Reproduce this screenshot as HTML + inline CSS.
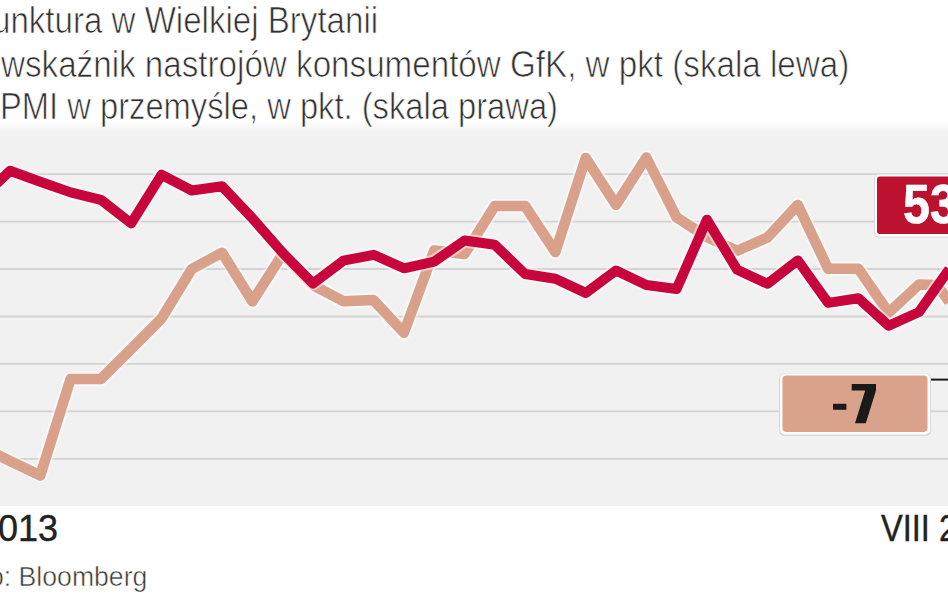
<!DOCTYPE html>
<html><head><meta charset="utf-8">
<style>
html,body{margin:0;padding:0;background:#fff;}
body{width:948px;height:593px;position:relative;overflow:hidden;font-family:"Liberation Sans",sans-serif;}
.t{position:absolute;white-space:nowrap;transform-origin:0 0;line-height:1;}
svg{position:absolute;left:0;top:0;}
</style></head><body>
<svg width="948" height="593" viewBox="0 0 948 593">
<defs><linearGradient id="tg" x1="0" y1="0" x2="0" y2="1"><stop offset="0" stop-color="#fff"/><stop offset="1" stop-color="#f1f1f2"/></linearGradient></defs>
<rect x="0" y="134" width="948" height="372" fill="#f1f1f2"/><rect x="0" y="121" width="948" height="13" fill="url(#tg)"/>
<g stroke="#d3d3d3" stroke-width="1.8"><line x1="0" y1="174.1" x2="948" y2="174.1"/><line x1="0" y1="221.6" x2="948" y2="221.6"/><line x1="0" y1="269.0" x2="948" y2="269.0"/><line x1="0" y1="316.5" x2="948" y2="316.5"/><line x1="0" y1="363.9" x2="948" y2="363.9"/><line x1="0" y1="411.4" x2="948" y2="411.4"/><line x1="0" y1="458.8" x2="948" y2="458.8"/></g>
<polyline points="-20.3,446.0 10.0,461.0 40.3,475.5 70.6,379.0 100.9,379.0 131.2,349.0 161.5,318.5 191.8,269.0 222.1,252.7 252.4,301.5 282.7,254.0 313.0,285.4 343.3,301.2 373.6,300.1 403.9,332.8 434.2,250.5 464.5,254.0 494.8,206.0 525.1,206.0 555.4,252.0 585.7,158.0 616.0,204.8 646.3,157.5 676.6,217.4 706.9,237.0 737.2,250.8 767.5,237.5 797.8,204.9 828.1,268.7 858.4,268.7 888.7,312.7 919.0,284.5 937.2,285.0 949.3,302.0" fill="none" stroke="#fff" stroke-opacity="0.5" stroke-width="14.5" stroke-linejoin="round"/>
<polyline points="-20.3,446.0 10.0,461.0 40.3,475.5 70.6,379.0 100.9,379.0 131.2,349.0 161.5,318.5 191.8,269.0 222.1,252.7 252.4,301.5 282.7,254.0 313.0,285.4 343.3,301.2 373.6,300.1 403.9,332.8 434.2,250.5 464.5,254.0 494.8,206.0 525.1,206.0 555.4,252.0 585.7,158.0 616.0,204.8 646.3,157.5 676.6,217.4 706.9,237.0 737.2,250.8 767.5,237.5 797.8,204.9 828.1,268.7 858.4,268.7 888.7,312.7 919.0,284.5 937.2,285.0 949.3,302.0" fill="none" stroke="#d9a08a" stroke-width="10.5" stroke-linejoin="round"/>
<polyline points="-20.3,199.8 10.0,170.8 40.3,181.8 70.6,192.4 100.9,199.8 131.2,223.4 161.5,174.8 191.8,190.5 222.1,186.2 252.4,218.3 282.7,252.8 313.0,283.5 343.3,260.7 373.6,254.8 403.9,268.3 434.2,261.6 464.5,240.5 494.8,244.8 525.1,274.0 555.4,278.7 585.7,292.9 616.0,270.5 646.3,285.0 676.6,289.0 706.9,219.7 737.2,269.8 767.5,283.8 797.8,260.4 828.1,302.9 858.4,298.3 888.7,325.7 919.0,312.0 949.3,269.1" fill="none" stroke="#fff" stroke-opacity="0.5" stroke-width="14" stroke-linejoin="round"/>
<polyline points="-20.3,199.8 10.0,170.8 40.3,181.8 70.6,192.4 100.9,199.8 131.2,223.4 161.5,174.8 191.8,190.5 222.1,186.2 252.4,218.3 282.7,252.8 313.0,283.5 343.3,260.7 373.6,254.8 403.9,268.3 434.2,261.6 464.5,240.5 494.8,244.8 525.1,274.0 555.4,278.7 585.7,292.9 616.0,270.5 646.3,285.0 676.6,289.0 706.9,219.7 737.2,269.8 767.5,283.8 797.8,260.4 828.1,302.9 858.4,298.3 888.7,325.7 919.0,312.0 949.3,269.1" fill="none" stroke="#c8043c" stroke-width="10" stroke-linejoin="round"/>
<rect x="874" y="174.5" width="90" height="63" rx="4.5" fill="#d8d8da"/><rect x="875" y="174.5" width="90" height="62" rx="4" fill="#fff"/><rect x="877" y="176.5" width="90" height="57.5" rx="3" fill="#bd1130"/><line x1="929" y1="379.6" x2="948" y2="379.6" stroke="#1a1a1a" stroke-width="2"/><rect x="779" y="373" width="152" height="63" rx="5.5" fill="#d8d8da"/><rect x="780" y="373.5" width="150" height="61" rx="5" fill="#fff"/><rect x="782.5" y="375.5" width="145" height="56.5" rx="4" fill="#dba28b"/><path d="M833,403.8 H846.4 V409.8 H833 Z" fill="#1a1a1a"/><path d="M851.7,384.1 H876 V390.4 L865.8,423.3 H855 L865.2,390.4 H851.7 Z" fill="#1a1a1a"/>
</svg>
<div class="t" style="left:-8.5px;top:3px;font-size:36px;color:#333;transform:scaleX(0.919);-webkit-text-stroke:0.7px #fff;">unktura w Wielkiej Brytanii</div>
<div class="t" style="left:1px;top:47px;font-size:36px;color:#333;transform:scaleX(0.9217);-webkit-text-stroke:0.7px #fff;">wskaźnik nastrojów konsumentów GfK, w pkt (skala lewa)</div>
<div class="t" style="left:-0.4px;top:88.5px;font-size:36px;color:#333;transform:scaleX(0.9086);-webkit-text-stroke:0.7px #fff;">PMI w przemyśle, w pkt. (skala prawa)</div>
<div class="t" style="left:-22px;top:511px;font-size:36px;color:#222;transform:scaleX(1);-webkit-text-stroke:0.4px #222;">2013</div>
<div class="t" style="left:881px;top:511px;font-size:36px;color:#222;transform:scaleX(0.905);-webkit-text-stroke:0.4px #222;">VIII 2015</div>
<div class="t" style="left:-11.5px;top:563.3px;font-size:27.5px;color:#3a3a3a;transform:scaleX(0.968);-webkit-text-stroke:0.5px #fff;">o: Bloomberg</div>
<div class="t" style="left:903px;top:176.5px;font-size:55px;color:#fff;transform:scaleX(0.88);font-weight:bold;-webkit-text-stroke:0.6px #fff;">53</div>

</body></html>
